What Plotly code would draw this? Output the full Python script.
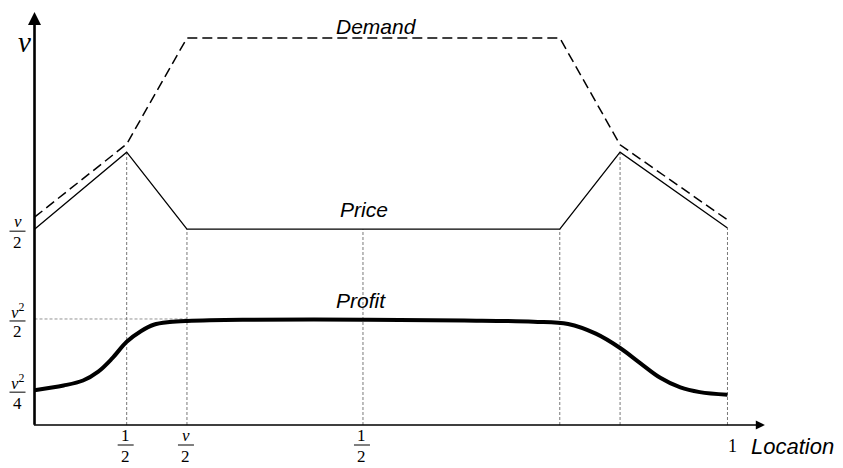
import numpy as np
import plotly.graph_objects as go

# ---------------- data (schematic units: location 0..1, value with demand top = 1) -------------
price_x = [0.0, 0.133, 0.220, 0.758, 0.845, 1.0]
price_y = [0.506, 0.705, 0.506, 0.506, 0.705, 0.509]

demand_x = [0.0, 0.133, 0.220, 0.758, 0.845, 1.0]
demand_y = [0.537, 0.726, 1.0, 1.0, 0.724, 0.530]

profit_x = [0.0, 0.042, 0.070, 0.092, 0.112, 0.133, 0.154, 0.172, 0.195, 0.220, 0.300,
            0.474, 0.620, 0.720, 0.770, 0.810, 0.845, 0.874, 0.903, 0.932, 0.960, 1.0]
profit_y = [0.090, 0.102, 0.115, 0.138, 0.172, 0.215, 0.243, 0.259, 0.266, 0.269, 0.272,
            0.272, 0.270, 0.267, 0.261, 0.236, 0.199, 0.160, 0.122, 0.097, 0.085, 0.078]

guide_x = [0.133, 0.220, 0.474, 0.758, 0.845, 1.0]   # dotted vertical guides

ytick_vals = [0.506, 0.274, 0.090]
ytick_num = ["<i>v</i>", "<i>v</i><sup>2</sup>", "<i>v</i><sup>2</sup>"]
ytick_den = ["2", "2", "4"]

xtick_vals = [0.133, 0.220, 0.474]
xtick_num = ["1", "<i>v</i>", "1"]
xtick_den = ["2", "2", "2"]
x_end_val = 1.0
x_end_label = "1"

x_axis_end = 1.054
y_axis_end = 1.067

series_labels = {"Demand": (0.494, 1.031), "Price": (0.4755, 0.558), "Profit": (0.471, 0.323)}

# ---------------- figure ----------------
fig = go.Figure()

# dotted vertical guides up to the price line
gx, gy = [], []
for xv in guide_x:
    gx += [xv, xv, None]
    gy += [0, float(np.interp(xv, price_x, price_y)), None]
fig.add_trace(go.Scatter(x=gx, y=gy, mode="lines",
                         line=dict(color="#555555", width=0.8, dash="3px,2px"),
                         hoverinfo="skip", showlegend=False))
# dotted horizontal at v^2/2
fig.add_trace(go.Scatter(x=[0, guide_x[1]], y=[ytick_vals[1], ytick_vals[1]], mode="lines",
                         line=dict(color="#777777", width=0.8, dash="3px,2px"),
                         hoverinfo="skip", showlegend=False))

fig.add_trace(go.Scatter(x=demand_x, y=demand_y, mode="lines",
                         line=dict(color="black", width=1.5, dash="10px,5px"),
                         showlegend=False))
fig.add_trace(go.Scatter(x=price_x, y=price_y, mode="lines",
                         line=dict(color="black", width=1.3),
                         showlegend=False))
fig.add_trace(go.Scatter(x=profit_x, y=profit_y, mode="lines",
                         line=dict(color="black", width=4, shape="spline", smoothing=1.0),
                         showlegend=False))

annotations = []
shapes = []

# axes as arrows
annotations.append(dict(x=x_axis_end, y=0, ax=-0.003, ay=0, xref="x", yref="y", axref="x", ayref="y",
                        text="", showarrow=True, arrowhead=2, arrowsize=1.3, arrowwidth=1.4,
                        arrowcolor="black"))
annotations.append(dict(x=0, y=y_axis_end, ax=0, ay=-0.003, xref="x", yref="y", axref="x", ayref="y",
                        text="", showarrow=True, arrowhead=2, arrowsize=1.0, arrowwidth=2.6,
                        arrowcolor="black"))

serif = "Liberation Serif"
sans = "Liberation Sans"
frac_font = dict(family=serif, size=17, color="black")

def fraction(xv, yv, num, den, xpx_shift, ypx_shift):
    shapes.append(dict(type="line", xref="x", yref="y",
                       xsizemode="pixel", ysizemode="pixel",
                       xanchor=xv, yanchor=yv,
                       x0=xpx_shift - 8, x1=xpx_shift + 8,
                       y0=ypx_shift, y1=ypx_shift,
                       line=dict(color="black", width=1)))
    annotations.append(dict(x=xv, y=yv, xref="x", yref="y", text=num, showarrow=False,
                            font=frac_font, xanchor="center", yanchor="middle",
                            xshift=xpx_shift, yshift=ypx_shift + 10))
    annotations.append(dict(x=xv, y=yv, xref="x", yref="y", text=den, showarrow=False,
                            font=frac_font, xanchor="center", yanchor="middle",
                            xshift=xpx_shift, yshift=ypx_shift - 11))

for yv, n, d in zip(ytick_vals, ytick_num, ytick_den):
    fraction(0, yv, n, d, -17, -2)
for xv, n, d in zip(xtick_vals, xtick_num, xtick_den):
    fraction(xv, 0, n, d, -1, -20)

annotations.append(dict(x=x_end_val, y=0, xref="x", yref="y", text=x_end_label, showarrow=False,
                        font=dict(family=serif, size=18, color="black"),
                        xanchor="center", yanchor="middle", xshift=5, yshift=-21))
annotations.append(dict(x=1.0945, y=0, xref="x", yref="y", text="<i>Location</i>", showarrow=False,
                        font=dict(family=sans, size=22, color="black"),
                        xanchor="center", yanchor="middle", yshift=-21))
annotations.append(dict(x=0, y=1.0, xref="x", yref="y", text="<i>v</i>", showarrow=False,
                        font=dict(family=serif, size=29, color="black"),
                        xanchor="center", yanchor="middle", xshift=-10, yshift=-4))

for name, (lx, ly) in series_labels.items():
    annotations.append(dict(x=lx, y=ly, xref="x", yref="y", text=f"<i>{name}</i>", showarrow=False,
                            font=dict(family=sans, size=21, color="black"),
                            xanchor="center", yanchor="middle"))

fig.update_layout(
    width=843, height=468, margin=dict(l=0, r=0, t=0, b=0),
    paper_bgcolor="white", plot_bgcolor="white",
    xaxis=dict(range=[-0.0498, 1.1667], visible=False, fixedrange=True),
    yaxis=dict(range=[-0.1111, 1.0982], visible=False, fixedrange=True),
    annotations=annotations, shapes=shapes,
)

fig.write_html("out.html")
